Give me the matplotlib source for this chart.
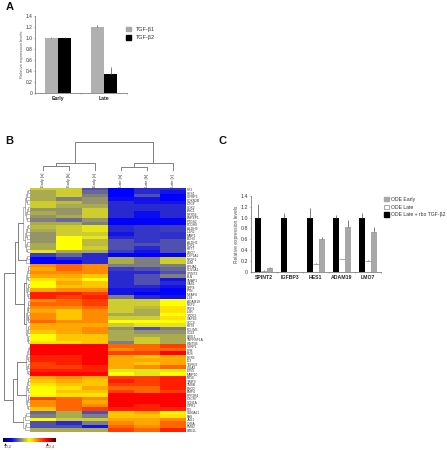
import numpy as np
import matplotlib
matplotlib.use("Agg")
import matplotlib.pyplot as plt
from matplotlib.colors import LinearSegmentedColormap
from matplotlib.patches import Patch

plt.rcParams['font.family'] = ['Liberation Sans', 'DejaVu Sans']

W, H = 447, 450

# panel A
a_groups = ["Early", "Late"]
a_tgf1 = [0.99, 1.20]
a_tgf1_err = [0.03, 0.04]
a_tgf2 = [0.99, 0.34]
a_tgf2_err = [0.03, 0.13]

# panel C
c_genes = ["SPINT2", "IGFBP3", "HES1", "ADAM19", "LMO7"]
c_rbo = [1.0, 1.0, 1.0, 1.0, 1.0]
c_rbo_err = [0.26, 0.09, 0.18, 0.04, 0.09]
c_late = [0.02, 0.0, 0.14, 0.23, 0.20]
c_late_err = [0.01, 0.0, 0.03, 0.01, 0.01]
c_early = [0.07, 0.0, 0.60, 0.82, 0.74]
c_early_err = [0.01, 0.0, 0.04, 0.13, 0.08]
y_ticks = [0, 0.2, 0.4, 0.6, 0.8, 1.0, 1.2, 1.4]
y_labels = ["0", "0.2", "0.4", "0.6", "0.8", "1.0", "1.2", "1.4"]

# panel B
samples = ["Early [a]", "Early [b]", "Early [c]", "Late [a]", "Late [b]", "Late [c]"]
genes = ["CR2", "HES1", "IGFBP3", "CDKN2B", "CTGF", "SOX2", "ENC1", "GPR56", "ENPEP1", "PTGS2",
         "PCDH9", "ALDH3", "IL1R2", "MMP1", "BDH3", "ALDH1", "PDK1", "KRT7", "LMO7", "CYP1A1",
         "NR2F1", "LUM", "EPHA1", "COL5A1", "SPINT2", "ELN", "SMAP1", "GAS1", "DPP4", "PTN",
         "MFAP4", "IL18", "ADAM19", "NRP2", "FGF9", "IL6R", "TPD52", "GAP43", "SDC4", "KRT8",
         "PDLIM1", "CD24", "LRIG1", "TNFRSF1A", "WNT5B", "SERP1", "CFB", "FOS", "EGR1", "ID3",
         "TGFBI3", "ITGA2", "ETV5", "MMP10", "NT5E", "TIMP3", "TMSB", "ENO2", "BMP4", "PPP2R4",
         "CXCR7", "SCN1A", "ITPR1", "PI3", "S100A11", "FAS", "JAG1", "CYBA", "PMS2", "UBE2L"]
# heat levels read by eye, 0 = blue, 3 = grey, 6 = yellow, 8 = orange, 10 = red
heat = [
    [5, 5, 2, 0, 1, 1], [4, 5, 2.5, 0, 1, 0.5], [4, 5, 3, 0, 2, 0], [4, 3, 3.5, 0.3, 0.5, 0],
    [5, 4.5, 3.5, 1, 0.5, 0.5], [5, 4, 4, 1, 1, 1], [3.5, 3.5, 5, 1, 1, 1], [4, 3.5, 5, 1, 0.3, 1],
    [3.5, 4, 5, 1, 0.3, 1], [3, 2.5, 3.5, 0, 0, 0], [4, 4, 3, 0, 0, 0], [4.5, 5, 5.5, 1, 1.3, 1.5],
    [4, 5, 5.5, 1, 1.3, 1.5], [3.5, 5, 5, 0.5, 1.3, 1.2], [3.5, 6, 5.5, 1, 1.3, 1.2], [3.5, 6, 4.5, 2, 1.3, 2],
    [4, 6, 4.5, 2, 2, 2], [4, 6, 5, 2, 1, 2], [5.5, 4, 4, 1.5, 0.5, 2], [1.5, 2.5, 1, 0, 0, 0],
    [0, 1, 1, 4, 3, 5], [0, 0, 1, 4, 3, 5], [8, 8.5, 8, 3, 3, 3], [7.5, 8.5, 8, 1.5, 2, 2.5],
    [8, 8, 8, 1, 1, 2], [7.5, 7.5, 7, 1, 2, 3], [6.5, 7, 6, 1, 2, 0.5], [6, 7.5, 7, 1, 2, 1],
    [6, 7, 7, 1, 1, 0.5], [7.5, 8, 8, 0.5, 0.5, 0], [9.5, 9.5, 9, 0.5, 0, 0], [9.5, 9, 9.5, 3, 1, 0.5],
    [8, 8.5, 9, 5, 5, 6], [8.5, 8.5, 9, 5, 5, 6], [8, 8, 8.5, 5, 4.5, 6.5], [7.5, 7, 8, 5, 4, 6.5],
    [8, 7, 8, 4, 4, 6], [8, 7, 8, 5, 5, 6.5], [8.5, 8, 8, 6, 6, 6], [7.5, 7.5, 7.5, 5, 5.5, 5.5],
    [7.5, 7.5, 8, 3.5, 2, 3], [7, 7.5, 8, 4, 3.5, 3.5], [6, 7, 7, 4, 4, 4], [6, 7, 7, 4, 5, 4],
    [6.5, 6.5, 7, 3, 5, 4], [10, 10, 10, 8.5, 8.5, 9], [10, 10, 10, 8, 8.5, 8.5], [10, 10, 10, 9, 9, 10],
    [9.5, 9.5, 10, 7.5, 7, 7.5], [9.5, 9.5, 10, 7.5, 7.5, 7.5], [9, 9.5, 10, 7.5, 7, 7.5], [9, 9, 9.5, 7.5, 8, 8.5],
    [9.5, 9.5, 9.5, 5.5, 5.5, 5.5], [10, 10, 10, 6, 5.5, 6], [7.5, 8, 7.5, 9, 9, 9.5], [7, 7.5, 7, 9.5, 9, 9.5],
    [6.5, 7, 7, 9, 9, 9.5], [6, 6.5, 7.5, 8.5, 8.5, 9.5], [6, 7, 7, 9, 8.5, 9], [6, 6.5, 6.5, 10, 10, 10],
    [9, 8.5, 8, 10, 10, 10], [8, 8.5, 7.5, 10, 10, 10], [8, 8.5, 8, 10, 9.5, 10], [7, 8.5, 9, 9.5, 9.5, 9.5],
    [2.5, 4, 2, 7, 7.5, 6], [3, 4, 3, 7, 7, 6.5], [6, 5, 5, 7.5, 7.5, 8], [2, 1, 3, 8, 7.5, 8.5],
    [2, 2, 0.5, 8.5, 8, 8.5], [4, 4, 4, 9, 8.5, 9.5],
]

# column tree, heights in px above the heatmap
col_tree = (46, (25, (22, 0, 1), 2), (25, (21, 3, 4), 5))
# row groups: (first row, last row) and merge depth in px left of the heatmap
row_tree = (26.3,
            (15, (12, (7.5, (0, 18)), (4, (19, 21))),
                 (6.5, (4.5, (22, 31)), (4.5, (32, 44)))),
            (17.5, (13, (4, (45, 53)), (4.5, (54, 63))), (7, (64, 69))))

heat_cmap = LinearSegmentedColormap.from_list("heat", [
    (0.0, "#0000ff"), (0.1, "#2a2ad0"), (0.2, "#5050b0"), (0.3, "#808080"), (0.4, "#aaaa50"),
    (0.5, "#cccc30"), (0.6, "#ffff00"), (0.7, "#ffc800"), (0.8, "#ff8c00"), (0.9, "#ff4000"), (1.0, "#ff0000")])
bar_cmap = LinearSegmentedColormap.from_list("bar", [
    (0.0, "#000040"), (0.15, "#0000ff"), (0.5, "#ffff00"), (0.82, "#ff0000"), (1.0, "#500000")])

GREY = "#808080"
TXT = "#333333"


def px_axes(fig, x0, y0, x1, y1):
    return fig.add_axes([x0 / W, 1 - y1 / H, (x1 - x0) / W, (y1 - y0) / H])


def style_bars(ax, n, tick_fs, label_fs):
    for s in ["top", "right"]:
        ax.spines[s].set_visible(False)
    for s in ["left", "bottom"]:
        ax.spines[s].set_color(GREY)
        ax.spines[s].set_linewidth(0.6)
    ax.set_xlim(-0.5, n - 0.5)
    ax.set_ylim(0, 1.4)
    ax.set_yticks(y_ticks)
    ax.set_yticklabels(y_labels, fontsize=tick_fs, color=TXT)
    ax.set_xticks(np.arange(n + 1) - 0.5)
    ax.set_xticklabels([])
    ax.tick_params(axis="both", length=1, width=0.5, color=GREY, pad=0.8)
    ax.set_ylabel("Relative expression levels", fontsize=label_fs, color="#555555", labelpad=1)


def err(ax, x, y, e):
    ax.errorbar(x, y, yerr=[np.zeros(len(e)), e], fmt="none", ecolor="#666666", elinewidth=0.6, capsize=0)


fig = plt.figure(figsize=(W / 100, H / 100), dpi=100, facecolor="white")

# A
axa = px_axes(fig, 35, 15.7, 127, 93)
xa = np.arange(len(a_groups))
bw = 0.29
axa.bar(xa - bw / 2, a_tgf1, bw, color="#b0b0b0")
axa.bar(xa + bw / 2, a_tgf2, bw, color="black")
err(axa, xa - bw / 2, a_tgf1, a_tgf1_err)
err(axa, xa + bw / 2, a_tgf2, a_tgf2_err)
style_bars(axa, len(a_groups), 3.5, 3)
for x, g in zip(xa, a_groups):
    axa.annotate(g, (x, 0), xytext=(0, -2.2), textcoords="offset points", ha="center", va="top",
                 fontsize=3.7, fontweight="bold", color="#222222")
axa.legend(handles=[Patch(color="#a8a8a8", label="TGF-β1"), Patch(color="black", label="TGF-β2")],
           loc="upper left", bbox_to_anchor=(0.986, 0.858), frameon=False, fontsize=4, labelcolor=TXT,
           handlelength=0.9, handleheight=0.9, handletextpad=0.96, labelspacing=0.6, borderpad=0, borderaxespad=0)

# C
axc = px_axes(fig, 250.7, 196, 380.7, 271.7)
xc = np.arange(len(c_genes))
bw = 0.23
axc.bar(xc - bw, c_rbo, bw, color="black")
axc.bar(xc, c_late, bw, color="white")
axc.bar(xc + bw, c_early, bw, color="#a8a8a8")
err(axc, xc - bw, c_rbo, c_rbo_err)
err(axc, xc, c_late, c_late_err)
err(axc, xc + bw, c_early, c_early_err)
axc.hlines(c_late, xc - bw / 2, xc + bw / 2, color="#888888", lw=0.5)
style_bars(axc, len(c_genes), 3.8, 3.5)
for x, g in zip(xc, c_genes):
    axc.annotate(g, (x, 0), xytext=(0, -2.2), textcoords="offset points", ha="center", va="top",
                 fontsize=3.7, fontweight="bold", color="#222222")
axc.legend(handles=[Patch(color="#a8a8a8", label="ODE Early"),
                    Patch(facecolor="white", edgecolor="#666666", lw=0.4, label="ODE Late"),
                    Patch(color="black", label="ODE Late + rbo TGF-β2")],
           loc="upper left", bbox_to_anchor=(1.028, 0.99), frameon=False, fontsize=3.7, labelcolor=TXT,
           handlelength=0.95, handleheight=0.95, handletextpad=0.35, labelspacing=0.55, borderpad=0, borderaxespad=0)

# B heatmap
HX0, HY0, HX1, HY1 = 30, 188, 185.5, 432
axh = px_axes(fig, HX0, HY0, HX1, HY1)
axh.imshow(np.array(heat), cmap=heat_cmap, vmin=0, vmax=10, aspect="auto", interpolation="nearest")
axh.set_xticks([])
axh.yaxis.tick_right()
axh.set_yticks(np.arange(len(genes)))
axh.set_yticklabels(genes, fontsize=2.3, color=TXT)
axh.tick_params(axis="y", length=0, pad=1)
for s in axh.spines.values():
    s.set_visible(False)

# overlay in pixel coordinates for dendrograms, letters and colour key
ov = fig.add_axes([0, 0, 1, 1], zorder=-1)
ov.set_xlim(0, W)
ov.set_ylim(H, 0)
ov.axis("off")

cw = (HX1 - HX0) / len(samples)
rh = (HY1 - HY0) / len(genes)


def draw_col(node):
    # returns x, y of the node top
    if isinstance(node, int):
        x = HX0 + cw * (node + 0.5)
        ov.text(x, HY0 - 1, samples[node], rotation=90, ha="center", va="bottom", fontsize=2.8, color=TXT)
        return x, HY0 - 18
    h, a, b = node
    y = HY0 - h
    xa_, ya_ = draw_col(a)
    xb_, yb_ = draw_col(b)
    ov.plot([xa_, xa_, xb_, xb_], [ya_, y, y, yb_], color=GREY, lw=0.7)
    return (xa_ + xb_) / 2, y


def fine(first, last, d):
    # nested pairs of neighbouring rows under a named group
    if first == last:
        return HX0 - 0.5, HY0 + rh * (first + 0.5)
    mid = (first + last) // 2
    xa_, ya_ = fine(first, mid, d * 0.72)
    xb_, yb_ = fine(mid + 1, last, d * 0.72)
    x = HX0 - d
    ov.plot([xa_, x, x, xb_], [ya_, ya_, yb_, yb_], color=GREY, lw=0.4)
    return x, (ya_ + yb_) / 2


def draw_row(node):
    if len(node) == 2:
        return fine(node[1][0], node[1][1], node[0])
    d, a, b = node
    xa_, ya_ = draw_row(a)
    xb_, yb_ = draw_row(b)
    x = HX0 - d
    ov.plot([xa_, x, x, xb_], [ya_, ya_, yb_, yb_], color=GREY, lw=0.7)
    return x, (ya_ + yb_) / 2


draw_col(col_tree)
draw_row(row_tree)

for t, x, y in [("A", 5.5, 10.5), ("B", 5, 143.5), ("C", 218.5, 143.5)]:
    ov.text(x, y, t, fontsize=8, fontweight="bold", ha="left", va="baseline", color="#111111")

# colour key
axk = px_axes(fig, 3, 438, 55.5, 441.5)
axk.imshow(np.linspace(0, 1, 100)[None, :], cmap=bar_cmap, aspect="auto")
axk.axis("off")
ov.scatter([5, 47], [443.5, 443.5], marker="^", s=3, color="black", linewidths=0)
ov.text(3.5, 447, "+0,2", fontsize=3, color="#3333cc", va="center")
ov.text(45, 447, "+50,4", fontsize=3, color="#cc3333", va="center")

fig.savefig("out.png", dpi=100)
